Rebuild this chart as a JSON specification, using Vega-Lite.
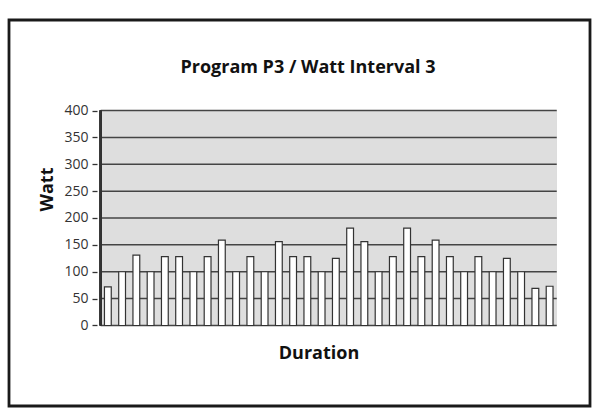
{
  "$schema": "https://vega.github.io/schema/vega-lite/v6.json",
  "autosize": {"type": "none"},
  "padding": {"left": 9, "top": 20, "right": 6, "bottom": 3},
  "width": 581,
  "height": 386,
  "background": "white",
  "title": {
    "text": "Program P3 / Watt Interval 3",
    "frame": "group",
    "anchor": "middle",
    "orient": "top",
    "offset": -71,
    "baseline": "alphabetic",
    "dx": 8.5,
    "font": "Open Sans",
    "fontSize": 18,
    "fontWeight": "bold",
    "color": "#111"
  },
  "datasets": {
    "watts": [
      {"interval": 1, "watt": 72},
      {"interval": 2, "watt": 100},
      {"interval": 3, "watt": 131},
      {"interval": 4, "watt": 100},
      {"interval": 5, "watt": 128},
      {"interval": 6, "watt": 128},
      {"interval": 7, "watt": 100},
      {"interval": 8, "watt": 128},
      {"interval": 9, "watt": 159},
      {"interval": 10, "watt": 100},
      {"interval": 11, "watt": 128},
      {"interval": 12, "watt": 100},
      {"interval": 13, "watt": 156},
      {"interval": 14, "watt": 128},
      {"interval": 15, "watt": 128},
      {"interval": 16, "watt": 100},
      {"interval": 17, "watt": 125},
      {"interval": 18, "watt": 181},
      {"interval": 19, "watt": 156},
      {"interval": 20, "watt": 100},
      {"interval": 21, "watt": 128},
      {"interval": 22, "watt": 181},
      {"interval": 23, "watt": 128},
      {"interval": 24, "watt": 159},
      {"interval": 25, "watt": 128},
      {"interval": 26, "watt": 100},
      {"interval": 27, "watt": 128},
      {"interval": 28, "watt": 100},
      {"interval": 29, "watt": 125},
      {"interval": 30, "watt": 100},
      {"interval": 31, "watt": 69},
      {"interval": 32, "watt": 73}
    ],
    "gridlines": [
      {"level": 0}, {"level": 50}, {"level": 100}, {"level": 150}, {"level": 200},
      {"level": 250}, {"level": 300}, {"level": 350}, {"level": 400}
    ]
  },
  "layer": [
    {
      "data": {"name": "watts"},
      "mark": {"type": "rect", "fill": "#dedede"},
      "encoding": {
        "x": {
          "datum": 0.5,
          "type": "quantitative",
          "scale": {"domain": [-5.586, 34.483], "nice": false, "zero": false},
          "axis": {
            "orient": "bottom",
            "offset": -80.5,
            "labels": false,
            "ticks": false,
            "domain": false,
            "grid": false,
            "title": "Duration",
            "titleFont": "Open Sans",
            "titleFontSize": 18,
            "titleFontWeight": "bold",
            "titleColor": "#111",
            "titleX": 309.5,
            "titleY": 33,
            "titleBaseline": "alphabetic",
            "titleAlign": "center"
          }
        },
        "x2": {"datum": 32.5},
        "y": {
          "datum": 0,
          "type": "quantitative",
          "scale": {"domain": [-149.8, 568.4], "nice": false, "zero": false},
          "axis": {
            "orient": "left",
            "offset": -88,
            "values": [0, 50, 100, 150, 200, 250, 300, 350, 400],
            "domain": false,
            "grid": false,
            "tickSize": 5,
            "tickColor": "#333",
            "tickWidth": 1.3,
            "labelPadding": 4,
            "labelFont": "Open Sans",
            "labelFontSize": 14,
            "labelColor": "#333",
            "title": "Watt",
            "titleFont": "Open Sans",
            "titleFontSize": 18,
            "titleFontWeight": "bold",
            "titleColor": "#111",
            "titleX": -50,
            "titleY": 169,
            "titleAngle": 270,
            "titleAlign": "center",
            "titleBaseline": "middle"
          }
        },
        "y2": {"datum": 400}
      }
    },
    {
      "data": {"name": "gridlines"},
      "mark": {"type": "rule", "stroke": "#444", "strokeWidth": 1.5},
      "encoding": {
        "x": {"datum": 0.5, "type": "quantitative"},
        "x2": {"datum": 32.5},
        "y": {"field": "level", "type": "quantitative"}
      }
    },
    {
      "data": {"name": "watts"},
      "mark": {
        "type": "bar",
        "orient": "vertical",
        "width": 6.8,
        "fill": "white",
        "stroke": "#333",
        "strokeWidth": 1.2
      },
      "encoding": {
        "x": {"field": "interval", "type": "quantitative"},
        "y": {"field": "watt", "type": "quantitative"}
      }
    },
    {
      "data": {"name": "watts"},
      "mark": {"type": "rule", "stroke": "#333", "strokeWidth": 1.6},
      "encoding": {
        "x": {"datum": 0.5, "type": "quantitative"},
        "y": {"datum": 0, "type": "quantitative"},
        "y2": {"datum": 400}
      }
    }
  ],
  "config": {
    "view": {"stroke": "#1a1a1a", "strokeWidth": 2.8, "fill": "white"}
  }
}
